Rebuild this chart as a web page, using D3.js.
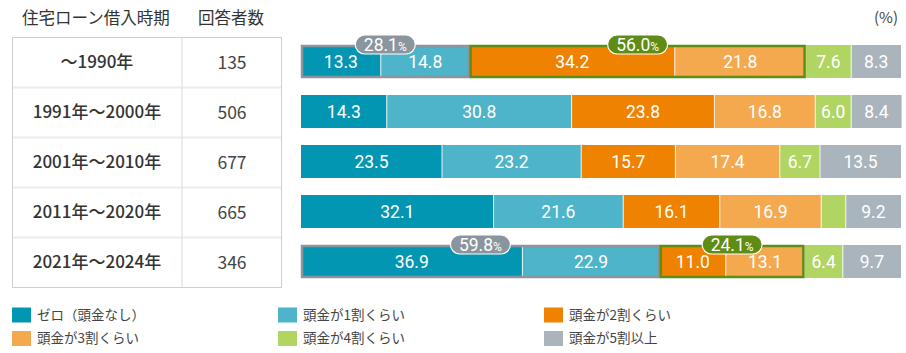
<!DOCTYPE html>
<html lang="ja">
<head>
    <meta charset="UTF-8">
    <title>住宅ローン借入時期別 頭金の割合</title>
    <script src="https://d3js.org/d3.v7.min.js"></script>
    <style>
        body {
            margin: 0;
            padding: 0;
            background: #fff;
            font-family: "Noto Sans CJK JP", "Noto Sans", sans-serif;
        }
        svg { display: block; }
        .num { font-family: Roboto, "Noto Sans", sans-serif; }
    </style>
</head>
<body>
    <svg id="chart"></svg>

    <script>
        // Data
        const periods = ["～1990年", "1991年～2000年", "2001年～2010年", "2011年～2020年", "2021年～2024年"];
        const counts = [135, 506, 677, 665, 346];

        const seriesNames = ["ゼロ（頭金なし）", "頭金が1割くらい", "頭金が2割くらい", "頭金が3割くらい", "頭金が4割くらい", "頭金が5割以上"];
        const zeroDown = [13.3, 14.3, 23.5, 32.1, 36.9];
        const tenPct = [14.8, 30.8, 23.2, 21.6, 22.9];
        const twentyPct = [34.2, 23.8, 15.7, 16.1, 11.0];
        const thirtyPct = [21.8, 16.8, 17.4, 16.9, 13.1];
        const fortyPct = [7.6, 6.0, 6.7, 4.1, 6.4];
        const fiftyPlus = [8.3, 8.4, 13.5, 9.2, 9.7];

        // grouped segments with a badge: row, first segment, last segment
        const highlights = [
            { row: 0, from: 0, to: 1, type: "gray" },
            { row: 0, from: 2, to: 3, type: "green" },
            { row: 4, from: 0, to: 1, type: "gray" },
            { row: 4, from: 2, to: 3, type: "green" }
        ];

        const colors = ["#0396b3", "#4eb4c9", "#ef8200", "#f4a94f", "#b1d563", "#a9b4bc"];
        const boxColors = { gray: "#8a959e", green: "#5e8c14" };

        const width = 906, height = 353;
        const svg = d3.select("#chart").attr("width", width).attr("height", height);

        const series = [zeroDown, tenPct, twentyPct, thirtyPct, fortyPct, fiftyPlus];
        const rows = periods.map((p, i) => {
            let acc = 0;
            const segs = series.map((s, k) => {
                const seg = { k: k, v: s[i], x0: acc, x1: acc + s[i] };
                acc += s[i];
                return seg;
            });
            return { period: p, count: counts[i], segs: segs };
        });

        // Scales
        const x = d3.scaleLinear().domain([0, 100]).range([301, 901]);
        const y = d3.scaleBand().domain(d3.range(periods.length)).range([37.5, 287.5]);
        const barH = 33;

        // Headers
        svg.append("text")
            .attr("x", 22).attr("y", 18)
            .attr("dy", "0.35em")
            .attr("font-size", 16.5)
            .attr("fill", "#333")
            .text("住宅ローン借入時期");
        svg.append("text")
            .attr("x", 198).attr("y", 18)
            .attr("dy", "0.35em")
            .attr("font-size", 16.5)
            .attr("fill", "#333")
            .text("回答者数");
        svg.append("text")
            .attr("x", 898).attr("y", 18)
            .attr("dy", "0.35em")
            .attr("text-anchor", "end")
            .attr("font-size", 15)
            .attr("fill", "#444")
            .text("(%)");

        // Table
        const table = svg.append("g");
        y.domain().slice(1).forEach(i => {
            table.append("line")
                .attr("x1", 12.5).attr("x2", 281.5)
                .attr("y1", y(i)).attr("y2", y(i))
                .attr("stroke", "#ececec").attr("stroke-width", 2);
        });
        table.append("line")
            .attr("x1", 182).attr("x2", 182)
            .attr("y1", 37.5).attr("y2", 287.5)
            .attr("stroke", "#e6e6e6").attr("stroke-width", 1.5);
        table.append("rect")
            .attr("x", 12.5).attr("y", 37.5)
            .attr("width", 269).attr("height", 250)
            .attr("fill", "none")
            .attr("stroke", "#cfcfcf");

        table.selectAll(".period")
            .data(rows)
            .join("text")
            .attr("class", "period")
            .attr("x", 97)
            .attr("y", (d, i) => y(i) + y.bandwidth() / 2)
            .attr("dy", "0.35em")
            .attr("text-anchor", "middle")
            .attr("font-size", 17)
            .attr("font-weight", 500)
            .attr("fill", "#333")
            .text(d => d.period);

        table.selectAll(".count")
            .data(rows)
            .join("text")
            .attr("class", "count")
            .attr("x", 232)
            .attr("y", (d, i) => y(i) + y.bandwidth() / 2)
            .attr("dy", "0.35em")
            .attr("text-anchor", "middle")
            .attr("font-size", 17.5)
            .attr("fill", "#444")
            .text(d => d.count);

        // Bars
        const barY = i => y(i) + (y.bandwidth() - barH) / 2 - 1;
        const rowG = svg.selectAll(".row")
            .data(rows)
            .join("g")
            .attr("class", "row")
            .attr("transform", (d, i) => `translate(0,${barY(i)})`);

        rowG.selectAll("rect")
            .data(d => d.segs)
            .join("rect")
            .attr("x", d => x(d.x0))
            .attr("width", d => x(d.x1) - x(d.x0))
            .attr("height", barH)
            .attr("fill", d => colors[d.k]);

        // thin separators
        rowG.selectAll(".sep")
            .data(d => d.segs.slice(1))
            .join("line")
            .attr("class", "sep")
            .attr("x1", d => x(d.x0)).attr("x2", d => x(d.x0))
            .attr("y1", 0).attr("y2", barH)
            .attr("stroke", "#fff")
            .attr("stroke-opacity", 0.85)
            .attr("stroke-width", 1);

        rowG.selectAll(".val")
            .data(d => d.segs.filter(s => x(s.x1) - x(s.x0) > 30))
            .join("text")
            .attr("class", "val num")
            .attr("x", d => (x(d.x0) + x(d.x1)) / 2)
            .attr("y", barH / 2)
            .attr("dy", "0.36em")
            .attr("text-anchor", "middle")
            .attr("font-size", 17.5)
            .attr("fill", "#fff")
            .text(d => d.v.toFixed(1));

        // Highlight boxes and badges
        const hl = highlights.map(h => {
            const segs = rows[h.row].segs;
            const a = segs[h.from].x0, b = segs[h.to].x1;
            const total = d3.sum(segs.slice(h.from, h.to + 1), s => s.v);
            return Object.assign({ a: a, b: b, total: total }, h);
        });

        const hlG = svg.selectAll(".hl")
            .data(hl)
            .join("g")
            .attr("class", "hl")
            .attr("transform", d => `translate(0,${barY(d.row)})`);

        hlG.append("rect")
            .attr("x", d => x(d.a) + 1)
            .attr("y", 1)
            .attr("width", d => x(d.b) - x(d.a) - 2)
            .attr("height", barH - 2)
            .attr("fill", "none")
            .attr("stroke", d => boxColors[d.type])
            .attr("stroke-width", 2.5);

        hlG.append("rect")
            .attr("x", d => (x(d.a) + x(d.b)) / 2 - 30)
            .attr("y", -10)
            .attr("width", 60)
            .attr("height", 19)
            .attr("rx", 9.5)
            .attr("fill", d => boxColors[d.type])
            .attr("stroke", "#fff")
            .attr("stroke-width", 1.2);

        const badge = hlG.append("text")
            .attr("class", "num")
            .attr("x", d => (x(d.a) + x(d.b)) / 2)
            .attr("y", -0.5)
            .attr("dy", "0.36em")
            .attr("text-anchor", "middle")
            .attr("fill", "#fff")
            .attr("font-size", 17.5);
        badge.append("tspan").text(d => d.total.toFixed(1));
        badge.append("tspan").attr("font-size", 12).text("%");

        // Legend
        const legend = svg.append("g");
        const legendItems = legend.selectAll(".leg")
            .data(seriesNames)
            .join("g")
            .attr("class", "leg")
            .attr("transform", (d, i) => `translate(${12 + (i % 3) * 266},${315 + Math.floor(i / 3) * 23.5})`);

        legendItems.append("rect")
            .attr("x", 0).attr("y", -7.5)
            .attr("width", 19).attr("height", 15)
            .attr("fill", (d, i) => colors[i]);

        legendItems.append("text")
            .attr("x", 25)
            .attr("dy", "0.35em")
            .attr("font-size", 13.5)
            .attr("fill", "#444")
            .text(d => d);
    </script>
</body>
</html>
